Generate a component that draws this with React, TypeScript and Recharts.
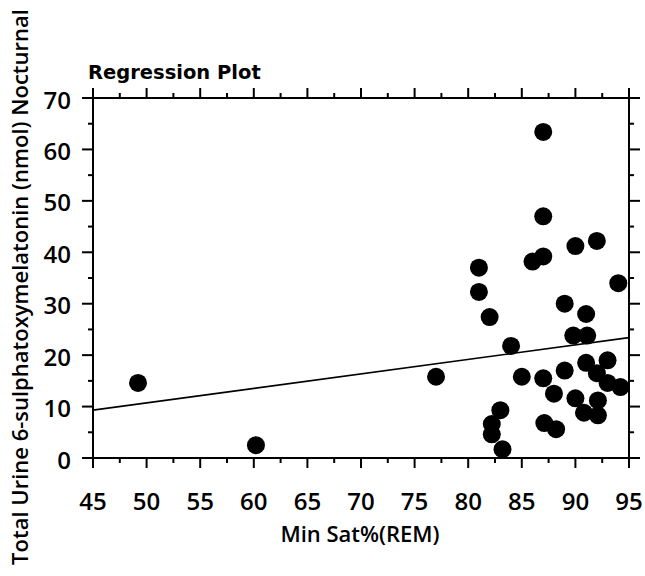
import React from 'react';
import { ComposedChart, XAxis, YAxis, Scatter } from 'recharts';

// Data
const minSat = [49.2, 60.2, 77, 81, 81, 82, 84, 86, 87, 87, 87, 90, 92, 94, 89, 91, 89.8, 91.1, 85, 87, 89, 88, 90, 91, 93, 92, 93, 94.2, 92.1, 90.8, 92.1, 83, 82.2, 82.2, 83.2, 87.1, 88.2];
const melatonin = [14.6, 2.5, 15.8, 37, 32.3, 27.4, 21.8, 38.2, 39.2, 47, 63.4, 41.2, 42.2, 34, 30, 28, 23.8, 23.8, 15.8, 15.5, 17, 12.5, 11.6, 18.5, 19, 16.5, 14.6, 13.8, 11.2, 8.8, 8.3, 9.3, 6.6, 4.6, 1.7, 6.8, 5.6];
const fitX = [45, 95];
const fitY = [9.3, 23.4];

const xMajorTicks = [45, 50, 55, 60, 65, 70, 75, 80, 85, 90, 95];
const xMinorTicks = [47.5, 52.5, 57.5, 62.5, 67.5, 72.5, 77.5, 82.5, 87.5, 92.5];
const yMajorTicks = [0, 10, 20, 30, 40, 50, 60, 70];
const yMinorTicks = [5, 15, 25, 35, 45, 55, 65];

const title = 'Regression Plot';
const xTitle = 'Min Sat%(REM)';
const yTitle = 'Total Urine 6-sulphatoxymelatonin (nmol) Nocturnal';

const points = minSat.map((x, i) => ({ x, y: melatonin[i] }));
const fitLine = fitX.map((x, i) => ({ x, y: fitY[i] }));
const allXTicks = [...xMajorTicks, ...xMinorTicks].sort((a, b) => a - b);
const allYTicks = [...yMajorTicks, ...yMinorTicks].sort((a, b) => a - b);

const X_DOMAIN: [number, number] = [45, 95];
const Y_DOMAIN: [number, number] = [0, 70];
const axisStroke = { stroke: '#000', strokeWidth: 2 };
const FONT = 'Open Sans';

const BottomTick = (p: any) => {
  const major = xMajorTicks.includes(p.payload.value);
  const len = major ? 10 : 5;
  return (
    <g>
      <line x1={p.x} x2={p.x} y1={p.y} y2={p.y + len} stroke="#000" strokeWidth={2} />
      {major && (
        <text x={p.x} y={p.y + 52} textAnchor="middle" fontFamily={FONT} fontSize={24} fontWeight={600} fill="#000">{p.payload.value}</text>
      )}
    </g>
  );
};
const TopTick = (p: any) => {
  const major = xMajorTicks.includes(p.payload.value);
  const len = major ? 10 : 5;
  return <line x1={p.x} x2={p.x} y1={p.y} y2={p.y - len} stroke="#000" strokeWidth={2} />;
};
const LeftTick = (p: any) => {
  const major = yMajorTicks.includes(p.payload.value);
  const len = major ? 11 : 5;
  return (
    <g>
      <line x1={p.x} x2={p.x - len} y1={p.y} y2={p.y} stroke="#000" strokeWidth={2} />
      {major && (
        <text x={p.x - 22} y={p.y + 2} dy="0.36em" textAnchor="end" fontFamily={FONT} fontSize={24} fontWeight={600} fill="#000">{p.payload.value}</text>
      )}
    </g>
  );
};
const RightTick = (p: any) => {
  const major = yMajorTicks.includes(p.payload.value);
  const len = major ? 11 : 5;
  return <line x1={p.x} x2={p.x + len} y1={p.y} y2={p.y} stroke="#000" strokeWidth={2} />;
};

const Dot = (props: any) => {
  if (props.cx == null || props.cy == null) return <g />;
  return <circle cx={props.cx} cy={props.cy} r={9} fill="#000" />;
};
const NoDot = () => <g />;

export default function App() {
  return (
    <div style={{ position: 'absolute', left: 0, top: 0, width: 645, height: 576, overflow: 'hidden', background: '#fff' }}>
      <ComposedChart width={645} height={576} margin={{ top: 97, right: 15, bottom: 117, left: 92 }}>
        <XAxis xAxisId="b" orientation="bottom" type="number" dataKey="x" domain={X_DOMAIN} ticks={allXTicks} interval={0}
          allowDataOverflow height={1} tickSize={0} tickMargin={0} axisLine={axisStroke} tickLine={false} tick={<BottomTick />} />
        <XAxis xAxisId="t" orientation="top" type="number" dataKey="x" domain={X_DOMAIN} ticks={allXTicks} interval={0}
          allowDataOverflow height={1} tickSize={0} tickMargin={0} axisLine={axisStroke} tickLine={false} tick={<TopTick />} />
        <YAxis yAxisId="l" orientation="left" type="number" dataKey="y" domain={Y_DOMAIN} ticks={allYTicks} interval={0}
          allowDataOverflow width={1} tickSize={0} tickMargin={0} axisLine={axisStroke} tickLine={false} tick={<LeftTick />} />
        <YAxis yAxisId="r" orientation="right" type="number" dataKey="y" domain={Y_DOMAIN} ticks={allYTicks} interval={0}
          allowDataOverflow width={1} tickSize={0} tickMargin={0} axisLine={axisStroke} tickLine={false} tick={<RightTick />} />
        <Scatter xAxisId="b" yAxisId="l" data={fitLine} dataKey="y" line={{ stroke: '#000', strokeWidth: 1.6 }} shape={NoDot} isAnimationActive={false} />
        <Scatter xAxisId="t" yAxisId="r" data={points} dataKey="y" shape={Dot} isAnimationActive={false} />
      </ComposedChart>
      <div style={{ position: 'absolute', left: 88, top: 63, fontFamily: 'DejaVu Sans', fontWeight: 'bold', fontSize: 19.5, lineHeight: '20px', color: '#000', whiteSpace: 'nowrap' }}>{title}</div>
      <div style={{ position: 'absolute', left: 160, width: 400, top: 525, height: 16, textAlign: 'center', fontFamily: FONT, fontWeight: 600, fontSize: 22, lineHeight: '16px', color: '#000', whiteSpace: 'nowrap' }}>{xTitle}</div>
      <div style={{ position: 'absolute', left: 19 - 300, top: 287 - 12, width: 600, height: 24, lineHeight: '24px', textAlign: 'center', fontFamily: FONT, fontWeight: 600, fontSize: 22, color: '#000', whiteSpace: 'nowrap', transform: 'rotate(-90deg)', transformOrigin: 'center' }}>{yTitle}</div>
    </div>
  );
}
